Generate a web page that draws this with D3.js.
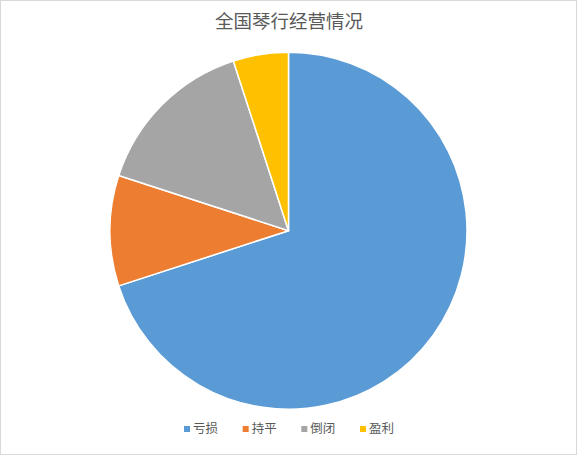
<!DOCTYPE html>
<html><head><meta charset="utf-8">
<script src="https://cdn.jsdelivr.net/npm/d3@7"></script>
<style>html,body{margin:0;padding:0;background:#fff;}svg{display:block;}</style>
</head><body>
<script>
const title = "全国琴行经营情况";
const categories = ["亏损", "持平", "倒闭", "盈利"];
const values = [70, 10, 15, 5];
const colors = ["#5B9BD5", "#ED7D31", "#A5A5A5", "#FFC000"];

const W = 578, H = 456;
const svg = d3.select("body").append("svg").attr("width", W).attr("height", H);
svg.append("rect").attr("x", 0.5).attr("y", 0.5).attr("width", 576).attr("height", 454)
  .attr("fill", "#fff").attr("stroke", "#D9D9D9").attr("stroke-width", 1);

const font = "'Noto Sans CJK SC', 'Microsoft YaHei', sans-serif";
svg.append("text").attr("x", 289).attr("y", 28).attr("text-anchor", "middle")
  .attr("font-family", font).attr("font-size", 18.5).attr("fill", "#595959").text(title);

const cx = 288.5, cy = 230.7, r = 178.5;
const data = categories.map((c, i) => ({cat: c, val: values[i], color: colors[i]}));
const pie = d3.pie().value(d => d.val).sort(null);
const arc = d3.arc().innerRadius(0).outerRadius(r);
const color = d3.scaleOrdinal().domain(categories).range(colors);

svg.append("g").attr("transform", `translate(${cx},${cy})`)
  .selectAll("path").data(pie(data)).join("path")
  .attr("d", arc).attr("fill", d => color(d.data.cat))
  .attr("stroke", "#fff").attr("stroke-width", 1.5).attr("stroke-linejoin", "round");

const legendX = d3.scalePoint().domain(categories).range([184, 360]);
const lg = svg.append("g").selectAll("g").data(categories).join("g")
  .attr("transform", d => `translate(${legendX(d)},429)`);
lg.append("rect").attr("x", 0).attr("y", -3).attr("width", 6).attr("height", 6)
  .attr("fill", d => color(d));
lg.append("text").attr("x", 9).attr("y", 0).attr("dy", "0.35em")
  .attr("font-family", font).attr("font-size", 12.5).attr("fill", "#595959").text(d => d);
</script>
</body></html>
